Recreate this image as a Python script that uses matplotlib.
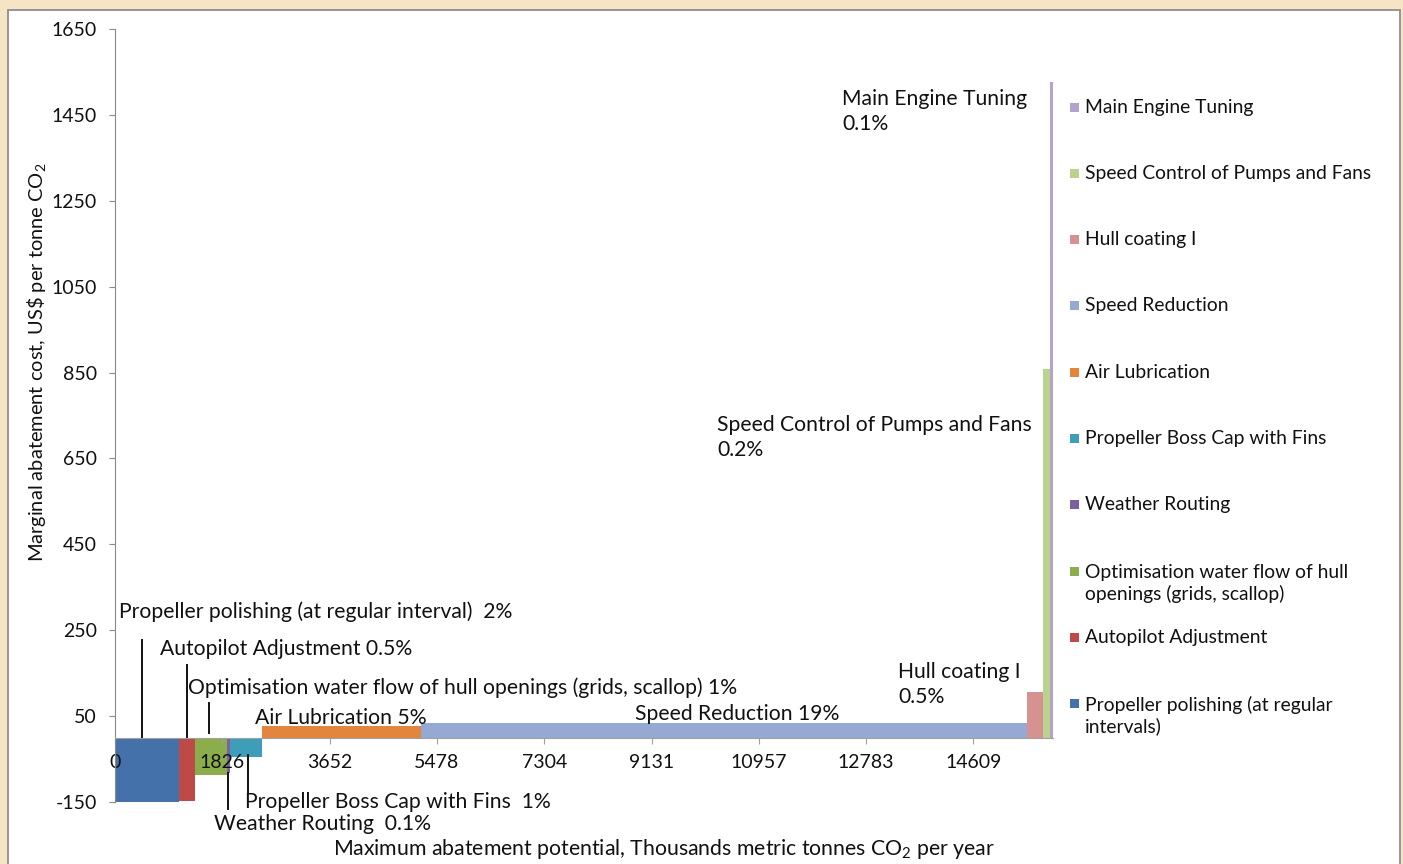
import numpy as np
import matplotlib
matplotlib.use("Agg")
import matplotlib.pyplot as plt
from matplotlib.patches import Rectangle

plt.rcParams["font.family"] = ["Lato", "DejaVu Sans"]
plt.rcParams["mathtext.default"] = "regular"

# Abatement measures in order of increasing marginal cost
measures = [
    "Propeller polishing (at regular\nintervals)",
    "Autopilot Adjustment",
    "Optimisation water flow of hull\nopenings (grids, scallop)",
    "Weather Routing",
    "Propeller Boss Cap with Fins",
    "Air Lubrication",
    "Speed Reduction",
    "Hull coating I",
    "Speed Control of Pumps and Fans",
    "Main Engine Tuning",
]
# Maximum abatement potential (thousand tonnes CO2 / year) = bar widths
potential = [1086, 271, 543, 54, 543, 2715, 10317, 271, 109, 54]
# Marginal abatement cost (US$ / tonne CO2) = bar heights
cost = [-150, -148, -87, -83, -45, 28, 35, 105, 859, 1527]
share = ["2%", "0.5%", "1%", "0.1%", "1%", "5%", "19%", "0.5%", "0.2%", "0.1%"]
colors = ["#4471AA", "#BD4A47", "#8CAD4C", "#7E60A1", "#3E9EB9",
          "#E3853D", "#94AAD3", "#D69290", "#BAD28E", "#B2A2CD"]

x_ticks = [0, 1826, 3652, 5478, 7304, 9131, 10957, 12783, 14609]
y_ticks = [-150, 50, 250, 450, 650, 850, 1050, 1250, 1450, 1650]

W, H = 1403, 864
fig = plt.figure(figsize=(W / 100, H / 100), dpi=100)
fig.patch.set_facecolor("#F6E4C4")
panel = Rectangle((8 / W, -0.05), (1400 - 8) / W, (H - 10) / H + 0.05,
                  transform=fig.transFigure, facecolor="white",
                  edgecolor="#8E8E8E", lw=1.3, zorder=-1)
fig.patches.append(panel)

ax = fig.add_axes([115 / W, 1 - 802 / H, 938 / W, 773 / H])
ax.set_facecolor("none")

widths = np.array(potential, dtype=float)
lefts = np.concatenate([[0], np.cumsum(widths)[:-1]])
ax.bar(lefts, cost, width=widths, align="edge", color=colors,
       linewidth=0, zorder=1)

ax.set_xlim(0, widths.sum())
ax.set_ylim(y_ticks[0], y_ticks[-1])

for s in ["top", "right"]:
    ax.spines[s].set_visible(False)
ax.spines["left"].set_color("#8A8A8A")
ax.spines["bottom"].set_color("#A0A0A0")
ax.spines["bottom"].set_position(("data", 0))

fs_tick, fs_ann, fs_leg = 14, 15.2, 13.9
ax.set_yticks(y_ticks)
ax.set_yticklabels([str(v) for v in y_ticks])
ax.set_xticks(x_ticks)
ax.set_xticklabels([str(v) for v in x_ticks])
ax.tick_params(axis="y", direction="out", length=4, pad=9, color="#8A8A8A",
               labelsize=fs_tick, labelcolor="#111111")
ax.tick_params(axis="x", direction="out", length=4, pad=8, color="#A0A0A0",
               labelsize=fs_tick, labelcolor="#111111")

txt = dict(fontsize=fs_ann, color="#111111", va="center", ha="left")
lead = dict(color="#111111", lw=1.4)

# Value labels with leader lines
ax.text(68, 294, f"Propeller polishing (at regular interval)  {share[0]}", **txt)
ax.plot([lefts[0] + 0.43 * widths[0]] * 2, [0, 227], **lead)

ax.text(766, 206, f"Autopilot Adjustment {share[1]}", **txt)
ax.plot([lefts[1] + 0.5 * widths[1]] * 2, [0, 169], **lead)

ax.text(1242, 115, f"Optimisation water flow of hull openings (grids, scallop) {share[2]}", **txt)
ax.plot([lefts[2] + 0.46 * widths[2]] * 2, [11, 80], **lead)

ax.text(1685, -201, f"Weather Routing  {share[3]}", clip_on=False, **txt)
ax.plot([lefts[3] + 0.5 * widths[3]] * 2, [cost[3], -166], clip_on=False, **lead)

ax.text(2213, -150, f"Propeller Boss Cap with Fins  {share[4]}", **txt)
ax.plot([lefts[4] + 0.56 * widths[4]] * 2, [-41, -129], **lead)

ax.text(2383, 45, f"Air Lubrication {share[5]}", **txt)
ax.text(8850, 55, f"Speed Reduction {share[6]}", **txt)
ax.text(13327, 123, f"Hull coating I\n{share[7]}", linespacing=1.33, **txt)
ax.text(10246, 699, f"Speed Control of Pumps and Fans\n{share[8]}", linespacing=1.33, **txt)
ax.text(12374, 1458, f"Main Engine Tuning\n{share[9]}", linespacing=1.33, **txt)

# Axis titles
fig.text(37 / W, 1 - 362 / H, r"Marginal abatement cost, US\$ per tonne CO$_2$",
         rotation=90, ha="center", va="center", fontsize=14.4, color="#111111")
fig.text(664 / W, 1 - 849 / H,
         "Maximum abatement potential, Thousands metric tonnes CO$_2$ per year",
         ha="center", va="center", fontsize=15.3, color="#111111")

# Legend, highest cost first
row0, step, sq = 107, 66.3, 9
for k, i in enumerate(range(len(measures) - 1, -1, -1)):
    y = row0 + step * k
    fig.patches.append(Rectangle(((1074 - sq / 2) / W, 1 - (y + sq / 2) / H),
                                 sq / W, sq / H, transform=fig.transFigure,
                                 facecolor=colors[i], lw=0))
    nlines = measures[i].count("\n") + 1
    fig.text(1085 / W, 1 - (y + 12 * (nlines - 1)) / H, measures[i],
             ha="left", va="center", fontsize=fs_leg, color="#111111",
             linespacing=1.25)

fig.savefig("out.png", dpi=100, facecolor=fig.get_facecolor())
